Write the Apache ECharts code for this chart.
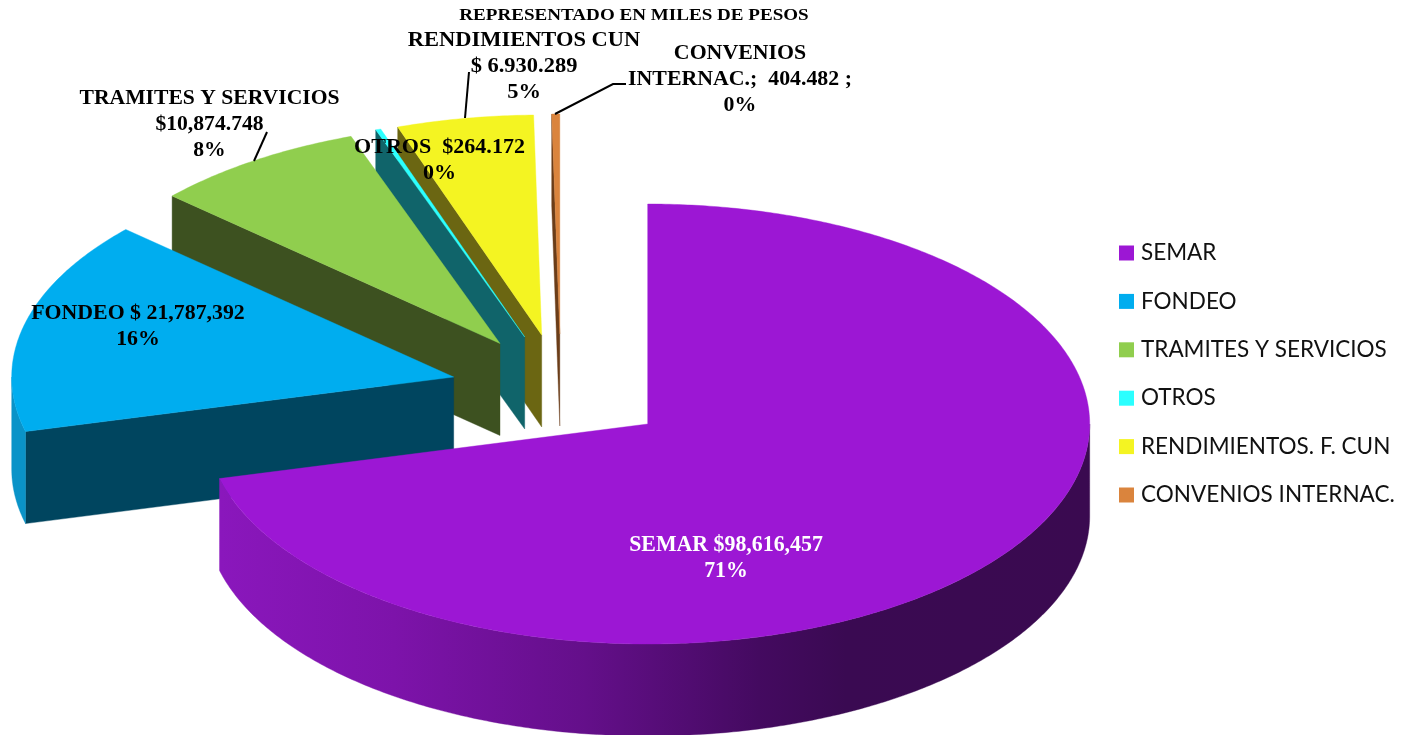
<!DOCTYPE html>
<html>
<head>
<meta charset="utf-8">
<style>html,body{margin:0;padding:0;background:#fff;overflow:hidden}#c{width:1411px;height:735px}</style>
<script src="https://cdn.jsdelivr.net/npm/echarts@6/dist/echarts.min.js"></script>
</head>
<body>
<div id="c"></div>
<script>
const categories = ['SEMAR','FONDEO','TRAMITES Y SERVICIOS','OTROS','RENDIMIENTOS. F. CUN','CONVENIOS INTERNAC.'];
const values = [98616457,21787392,10874748,264172,6930289,404482];
const topColors = ['#9C17D4','#00ADEF','#90CE4E','#2BFFFF','#F4F422','#DA843D'];
const faceColors = [null,'#00455F','#3D5120','#10646A','#6B6612','#6B3D18'];
const wallColors = ['#7A14A6','#0A93C8','#3D5120','#10646A','#6B6612','#6B3D18'];
const apexes = [[647.7,424],[453.7,377],[500,343.5],[524.7,337],[541.7,335],[559.8,334]];
const rx = 442, ry = 220, depth = 92;
const labelTexts = [
  {t:'REPRESENTADO EN MILES DE PESOS', x:634, y:15, s:17.5, sx:1.09},
  {t:'RENDIMIENTOS CUN\n$ 6.930.289\n5%', x:524, y:66.5, s:21, sx:1.07},
  {t:'CONVENIOS\nINTERNAC.;  404.482 ;\n0%', x:740, y:80, s:21, sx:1.04},
  {t:'TRAMITES Y SERVICIOS\n$10,874.748\n8%', x:209.5, y:125, s:21, sx:1.03},
  {t:'OTROS  $264.172\n0%', x:439.5, y:161, s:21, sx:1.05},
  {t:'FONDEO $ 21,787,392\n16%', x:138, y:327, s:21, sx:1.04},
  {t:'SEMAR $98,616,457\n71%', x:726, y:558, s:23, sx:0.95, c:'#fff'}
];
const leaders = [[[267,132],[254,161]],[[469,72],[465,118]],[[626,84],[613,84],[555,114]]];

const total = values.reduce((a,b)=>a+b,0);
const rim = (c,th,dy=0)=>[c[0]+rx*Math.sin(th), c[1]-ry*Math.cos(th)+dy];
const arc = (c,a,b,dy=0)=>{
  const n=Math.max(2,Math.ceil(Math.abs(b-a)/0.01)), p=[];
  for(let k=0;k<=n;k++) p.push(rim(c,a+(b-a)*k/n,dy));
  return p;
};
const semarWall = {type:'linear',x:220,y:0,x2:1089,y2:0,global:true,colorStops:[
  {offset:0,color:'#8A17BC'},{offset:0.2,color:'#7D13AA'},{offset:0.42,color:'#640F8A'},
  {offset:0.62,color:'#440A60'},{offset:0.72,color:'#3A0A52'},{offset:1,color:'#3A0A50'}]};

let cum = 0;
const series = categories.map((name,i)=>{
  const start = cum/total*2*Math.PI; cum += values[i];
  const end = cum/total*2*Math.PI;
  return {
    type:'custom', name, coordinateSystem:'none', silent:true, z:10-i,
    itemStyle:{color:topColors[i]}, data:[[values[i]]],
    renderItem(){
      const c=apexes[i], kids=[];
      const poly=(points,fill)=>kids.push({type:'polygon',shape:{points},style:{fill,stroke:fill,lineWidth:0.4}});
      if(faceColors[i]){
        const o=rim(c,start);
        poly([c,o,[o[0],o[1]+depth],[c[0],c[1]+depth]],faceColors[i]);
      }
      const a=Math.max(start,Math.PI/2), b=Math.min(end,3*Math.PI/2);
      if(b>a){
        poly(arc(c,a,b).concat(arc(c,b,a,depth)), i===0?semarWall:wallColors[i]);
      }
      poly([c].concat(arc(c,start,end)),topColors[i]);
      return {type:'group',children:kids};
    }
  };
});

const graphics = labelTexts.map(l=>({
  type:'text', z:100, silent:true, x:l.x, y:l.y, scaleX:l.sx, scaleY:1,
  style:{text:l.t, fill:l.c||'#000', font:`bold ${l.s}px "Liberation Serif"`, textAlign:'center', textVerticalAlign:'middle', lineHeight:26}
})).concat(leaders.map(p=>({
  type:'polyline', z:90, silent:true, shape:{points:p}, style:{stroke:'#000',lineWidth:2,fill:null}
})));

const chart = echarts.init(document.getElementById('c'),null,{renderer:'canvas'});
chart.setOption({
  animation:false, backgroundColor:'#fff',
  legend:{data:categories, orient:'vertical', left:1114, top:234, icon:'rect', itemWidth:15, itemHeight:15, itemGap:20.4,
    selectedMode:false, textStyle:{fontFamily:'Lato',fontSize:22.5,color:'#111',lineHeight:28,padding:[0,0,0,2]}},
  series, graphic:graphics
});
</script>
</body>
</html>
